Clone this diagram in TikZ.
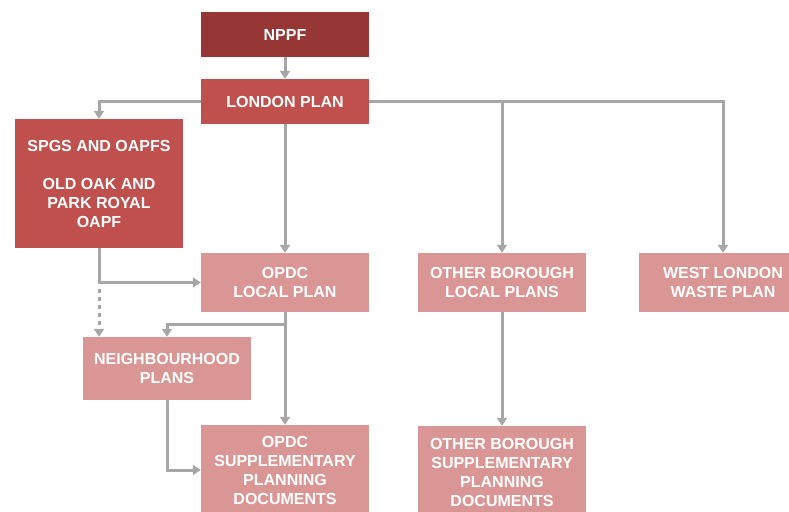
\documentclass[tikz,border=0pt]{standalone}
\usepackage{fontspec}
\setmainfont{Liberation Sans}
\usetikzlibrary{arrows.meta}
\definecolor{topred}{HTML}{963736}
\definecolor{midred}{HTML}{C0504D}
\definecolor{lightred}{HTML}{DA9694}
\definecolor{linkgrey}{HTML}{A6A6A6}
\tikzset{
  box/.style={rectangle, inner sep=2pt, minimum width=168pt, text=white,
    align=center, font=\bfseries\fontsize{16}{19}\selectfont},
  topbox/.style={box, fill=topred},
  midbox/.style={box, fill=midred},
  lowbox/.style={box, fill=lightred},
  link/.style={draw=linkgrey, line width=3pt,
    -{Triangle[width=10pt,length=8pt]}},
  dotlink/.style={link, dash pattern=on 4pt off 4pt}
}
\begin{document}
\begin{tikzpicture}[x=1pt,y=-1pt]
\useasboundingbox (0,0) rectangle (789,511);
\clip (0,0) rectangle (789,511);

% boxes
\node[topbox, minimum height=45pt]  (nppf)   at (285,34.5)  {NPPF};
\node[midbox, minimum height=45pt]  (london) at (285,101.5) {LONDON PLAN};
\node[midbox, minimum height=129pt] (spgs)   at (99,183.5)
  {SPGS AND OAPFS\\[19pt]OLD OAK AND\\PARK ROYAL\\OAPF};
\node[lowbox, minimum height=59pt]  (opdc)   at (285,282.5) {OPDC\\LOCAL PLAN};
\node[lowbox, minimum height=59pt]  (obl)    at (502,282.5) {OTHER BOROUGH\\LOCAL PLANS};
\node[lowbox, minimum height=59pt]  (wlw)    at (723,282.5) {WEST LONDON\\WASTE PLAN};
\node[lowbox, minimum height=63pt]  (neigh)  at (167,368.5) {NEIGHBOURHOOD\\PLANS};
\node[lowbox, minimum height=90pt]  (opdcspd) at (285,470)
  {OPDC\\SUPPLEMENTARY\\PLANNING\\DOCUMENTS};
\node[lowbox, minimum height=92pt]  (obspd)  at (502,472)
  {OTHER BOROUGH\\SUPPLEMENTARY\\PLANNING\\DOCUMENTS};

% connectors
\draw[link] (nppf) -- (london);
\draw[link] (london.west) -| (spgs.north);
\draw[link] (london) -- (opdc);
\draw[link] (london.east) -| (obl.north);
\draw[link] (london.east) -| (wlw.north);
\draw[link] (spgs.south) |- (opdc.west);
\coordinate (bend) at (spgs.south |- opdc.west);
\draw[dotlink] ([yshift=-6pt]bend) -- (spgs.south |- neigh.north);
\coordinate (split) at ([yshift=-12pt]opdc.south);
\draw[link] (opdc.south) -- (opdcspd.north);
\draw[link] (split) -| (neigh.north);
\draw[link] (neigh.south) |- (opdcspd.west);
\draw[link] (obl.south) -- (obspd.north);
\end{tikzpicture}
\end{document}
